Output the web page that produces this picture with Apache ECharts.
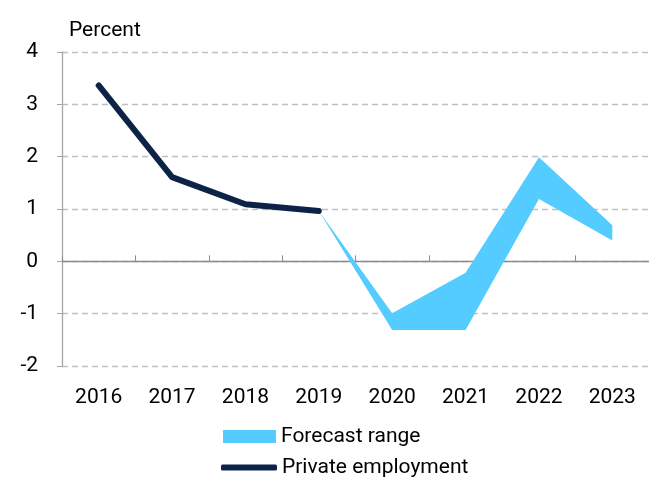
<!DOCTYPE html>
<html>
<head>
<meta charset="utf-8">
<script src="https://cdn.jsdelivr.net/npm/echarts@6/dist/echarts.min.js"></script>
<style>
    html, body { margin: 0; padding: 0; background: #fff; }
    #chart_con { width: 649px; height: 477px; }
</style>
</head>
<body>
<div id="chart_con"></div>
<script>
// data
var years = ['2016', '2017', '2018', '2019', '2020', '2021', '2022', '2023'];
var privateEmployment = [3.36, 1.61, 1.09, 0.96, null, null, null, null];
var forecastLow = [null, null, null, 0.96, -1.31, -1.31, 1.19, 0.40];
var forecastHigh = [null, null, null, 0.96, -0.99, -0.22, 1.99, 0.69];
var yTicks = [-2, -1, 0, 1, 2, 3, 4];

// band thickness stacked on top of the low edge
var forecastSpread = forecastLow.map(function (v, i) {
    return v == null ? null : +(forecastHigh[i] - v).toFixed(2);
});

var FONT = 'Roboto, sans-serif';
var FS = 21;
var chart = echarts.init(document.getElementById('chart_con'));

var option = {
    animation: false,
    textStyle: { fontFamily: FONT },
    title: {
        text: 'Percent',
        left: 64,
        top: 15,
        textStyle: { fontFamily: FONT, fontSize: FS, fontWeight: 'normal', color: '#000' }
    },
    legend: [
        {
            data: [{ name: 'Forecast range', icon: 'rect' }],
            orient: 'vertical',
            left: 218,
            top: 421,
            itemWidth: 53,
            itemHeight: 13,
            textStyle: { fontFamily: FONT, fontSize: FS, color: '#000', padding: [0, 0, 0, 0] }
        },
        {
            data: [{ name: 'Private employment', icon: 'roundRect' }],
            orient: 'vertical',
            left: 216,
            top: 452,
            itemWidth: 56,
            itemHeight: 6,
            textStyle: { fontFamily: FONT, fontSize: FS, color: '#000', padding: [0, 0, 0, 0] }
        }
    ],
    grid: { left: 62, top: 52, width: 592, height: 314 },
    xAxis: [
        {
            type: 'category',
            data: years,
            position: 'bottom',
            axisLine: { show: false, onZero: false },
            axisTick: { show: false },
            axisLabel: { fontFamily: FONT, fontSize: FS, color: '#000', margin: 21 }
        },
        {
            type: 'category',
            data: years,
            position: 'top',
            axisLine: { onZero: true, lineStyle: { color: '#8c8c8c', width: 1.3 } },
            axisTick: { show: true, inside: false, length: 6, lineStyle: { color: '#8c8c8c' } },
            axisLabel: { show: false }
        }
    ],
    yAxis: {
        type: 'value',
        min: yTicks[0],
        max: yTicks[yTicks.length - 1],
        interval: 1,
        axisLine: { show: true, lineStyle: { color: '#a6a6a6', width: 1.3 } },
        axisTick: { show: true, length: 5, lineStyle: { color: '#a6a6a6' } },
        axisLabel: { fontFamily: FONT, fontSize: FS, color: '#000', margin: 24 },
        splitLine: { show: true, lineStyle: { color: '#bfbfbf', type: [6, 4], width: 1.3 } }
    },
    series: [
        {
            name: 'low',
            type: 'line',
            data: forecastLow,
            stack: 'band',
            stackStrategy: 'all',
            symbol: 'none',
            lineStyle: { opacity: 0 },
            silent: true,
            z: 1
        },
        {
            name: 'Forecast range',
            type: 'line',
            data: forecastSpread,
            stack: 'band',
            stackStrategy: 'all',
            symbol: 'none',
            color: '#55ccff',
            lineStyle: { width: 0, color: '#55ccff' },
            areaStyle: { color: '#55ccff', opacity: 1 },
            itemStyle: { color: '#55ccff' },
            z: 2
        },
        {
            name: 'Private employment',
            type: 'line',
            data: privateEmployment,
            symbol: 'none',
            color: '#0c2247',
            lineStyle: { width: 6, color: '#0c2247', cap: 'round', join: 'round' },
            itemStyle: { color: '#0c2247' },
            z: 3
        }
    ]
};

chart.setOption(option);
window.addEventListener('resize', function () {
    chart.resize();
});
</script>
</body>
</html>
